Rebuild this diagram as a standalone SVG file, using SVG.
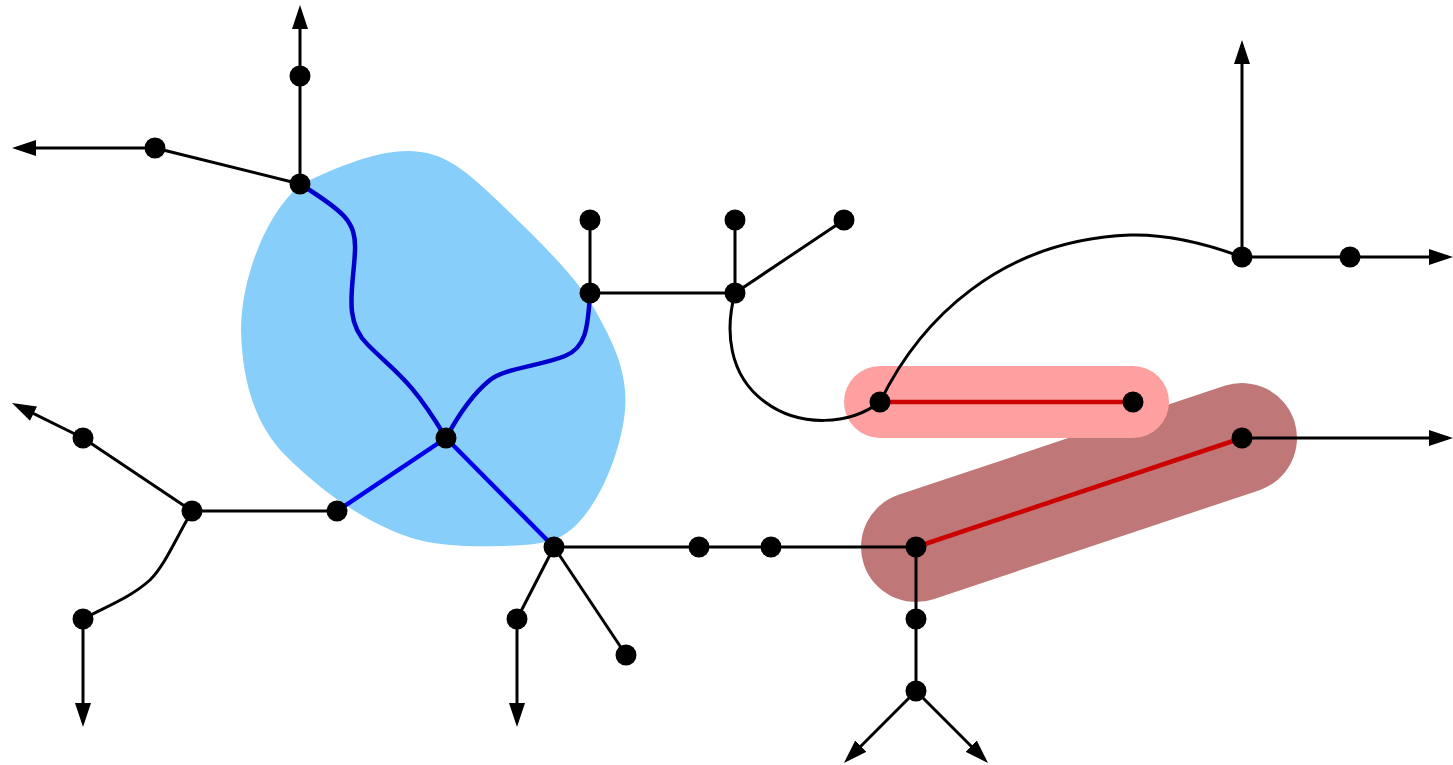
<svg xmlns="http://www.w3.org/2000/svg" width="1453" height="765" viewBox="0 0 1453 765">
<style>
.e{fill:none;stroke:#000;stroke-width:3}
.b1{fill:none;stroke:#0000CC;stroke-width:4.5}
.b2{fill:none;stroke:#0000EE;stroke-width:4.5}
.r{fill:none;stroke:#CC0000;stroke-width:4.5}
.n{fill:#000}
</style>
<defs>
<marker id="ar" viewBox="0 0 24 16" refX="19" refY="8" markerWidth="24" markerHeight="16" markerUnits="userSpaceOnUse" orient="auto">
<path d="M0,0 L24,8 L0,16 Z" fill="#000"/>
</marker>
</defs>
<rect width="1453" height="765" fill="#fff"/>
<g id="regions">
<path id="blob" fill="#87CEFA" d="M300,185 C340,165 380,150 410,151 C445,152 465,170 500,203 C540,242 575,275 595,310 C615,345 628,375 625,410 C622,445 605,490 585,515 C565,540 550,545 500,546 C450,547 420,545 380,525 C340,505 310,480 285,455 C255,425 242,380 241,330 C241,280 265,215 300,185 Z"/>
<line id="capsule-dark" x1="916" y1="547" x2="1242" y2="438" stroke="#BF7777" stroke-width="110" stroke-linecap="round"/>
<line id="capsule-pink" x1="880" y1="402" x2="1133" y2="402" stroke="#FFA0A0" stroke-width="72" stroke-linecap="round"/>
</g>
<g id="connectors">
<line class="e" x1="300" y1="184" x2="300" y2="10" marker-end="url(#ar)"/>
<line class="e" x1="300" y1="184" x2="155" y2="148"/>
<line class="e" x1="155" y1="148" x2="17" y2="148" marker-end="url(#ar)"/>
<line class="e" x1="590" y1="293" x2="590" y2="220"/>
<line class="e" x1="590" y1="293" x2="735" y2="293"/>
<line class="e" x1="735" y1="293" x2="735" y2="220"/>
<line class="e" x1="735" y1="293" x2="844" y2="220"/>
<path class="e" d="M735,293 C725,330 728,375 765,402 C800,428 850,425 880,402"/>
<path class="e" d="M880,402 C920,320 1000,240 1130,235 C1170,234 1210,245 1242,257"/>
<line class="e" x1="1242" y1="257" x2="1242" y2="45" marker-end="url(#ar)"/>
<line class="e" x1="1242" y1="257" x2="1448" y2="257" marker-end="url(#ar)"/>
<line class="e" x1="1242" y1="438" x2="1448" y2="438" marker-end="url(#ar)"/>
<line class="e" x1="192" y1="511" x2="83" y2="438"/>
<line class="e" x1="83" y1="438" x2="16.5" y2="405.2" marker-end="url(#ar)"/>
<line class="e" x1="192" y1="511" x2="337" y2="511"/>
<path class="e" d="M192,511 C175,540 165,565 150,580 C130,598 105,607 83,619"/>
<line class="e" x1="83" y1="619" x2="83" y2="722" marker-end="url(#ar)"/>
<line class="e" x1="554" y1="547" x2="916" y2="547"/>
<line class="e" x1="554" y1="547" x2="517" y2="619"/>
<line class="e" x1="517" y1="619" x2="517" y2="722" marker-end="url(#ar)"/>
<line class="e" x1="554" y1="547" x2="626" y2="655"/>
<line class="e" x1="916" y1="547" x2="916" y2="691"/>
<line class="e" x1="916" y1="691" x2="847.5" y2="759.5" marker-end="url(#ar)"/>
<line class="e" x1="916" y1="691" x2="984.5" y2="759.5" marker-end="url(#ar)"/>
<path class="b1" d="M300,184 C345,212 356,222 355,250 C354,285 342,320 368,345 C395,372 410,378 446,438"/>
<path class="b1" d="M590,293 C588,330 585,348 565,356 C540,366 505,368 490,380 C475,392 460,412 446,438"/>
<line class="b2" x1="446" y1="438" x2="337" y2="511"/>
<line class="b2" x1="446" y1="438" x2="554" y2="547"/>
<line class="r" x1="880" y1="402" x2="1133" y2="402"/>
<line class="r" x1="916" y1="547" x2="1242" y2="438"/>
</g>
<g id="nA"><circle class="n" cx="300" cy="76" r="10.5"/></g>
<g id="nB"><circle class="n" cx="155" cy="148" r="10.5"/></g>
<g id="nC"><circle class="n" cx="300" cy="184" r="10.5"/></g>
<g id="nD"><circle class="n" cx="590" cy="220" r="10.5"/></g>
<g id="nE"><circle class="n" cx="735" cy="220" r="10.5"/></g>
<g id="nF"><circle class="n" cx="844" cy="220" r="10.5"/></g>
<g id="nG"><circle class="n" cx="590" cy="293" r="10.5"/></g>
<g id="nH"><circle class="n" cx="735" cy="293" r="10.5"/></g>
<g id="nI"><circle class="n" cx="1242" cy="257" r="10.5"/></g>
<g id="nJ"><circle class="n" cx="1350" cy="257" r="10.5"/></g>
<g id="nK"><circle class="n" cx="880" cy="402" r="10.5"/></g>
<g id="nL"><circle class="n" cx="1133" cy="402" r="10.5"/></g>
<g id="nM"><circle class="n" cx="1242" cy="438" r="10.5"/></g>
<g id="nN"><circle class="n" cx="83" cy="438" r="10.5"/></g>
<g id="nO"><circle class="n" cx="192" cy="511" r="10.5"/></g>
<g id="nP"><circle class="n" cx="337" cy="511" r="10.5"/></g>
<g id="nQ"><circle class="n" cx="446" cy="438" r="10.5"/></g>
<g id="nR"><circle class="n" cx="554" cy="547" r="10.5"/></g>
<g id="nS"><circle class="n" cx="699" cy="547" r="10.5"/></g>
<g id="nT"><circle class="n" cx="771" cy="547" r="10.5"/></g>
<g id="nU"><circle class="n" cx="916" cy="547" r="10.5"/></g>
<g id="nV"><circle class="n" cx="517" cy="619" r="10.5"/></g>
<g id="nW"><circle class="n" cx="626" cy="655" r="10.5"/></g>
<g id="nX"><circle class="n" cx="83" cy="619" r="10.5"/></g>
<g id="nY"><circle class="n" cx="916" cy="619" r="10.5"/></g>
<g id="nZ"><circle class="n" cx="916" cy="691" r="10.5"/></g>
</svg>
